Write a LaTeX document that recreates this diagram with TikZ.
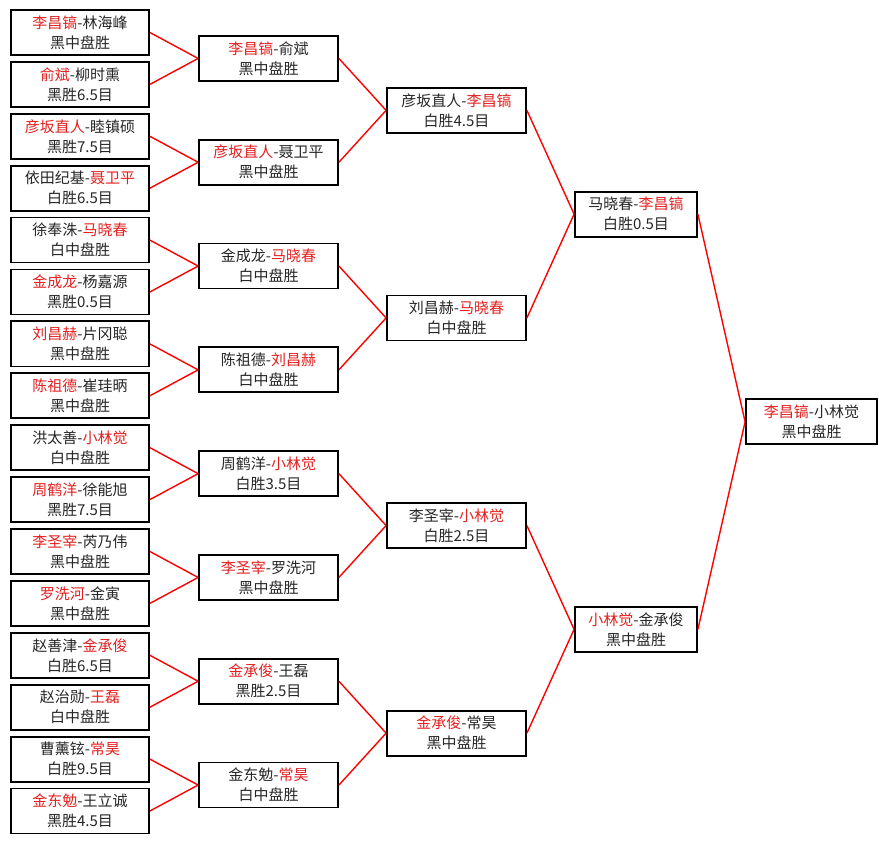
\documentclass[tikz,border=0pt]{standalone}
\usepackage{fontspec}
\setmainfont{Noto Sans CJK SC}
\usetikzlibrary{positioning,calc}
\definecolor{winred}{RGB}{228,32,32}
\newcommand{\wn}[1]{\textcolor{winred}{#1}}

\begin{document}
\begin{tikzpicture}[x=1pt, y=-1pt, node distance=5.1pt]
\tikzstyle{match}=[draw=black, line width=1.8pt, fill=white, align=center, minimum width=138pt, minimum height=45pt, inner sep=0pt, text=black!85, font=\fontsize{15}{20}\selectfont]
\tikzstyle{link}=[draw=red, line width=1.4pt]
\useasboundingbox (0,0) rectangle (879,845);
\fill[white] (0,0) rectangle (879,845);

% first round
\node[match]    (A1) at (80,32.5)   {\wn{李昌镐}-林海峰\\黑中盘胜};
\node[match]    (A2)[below=of A1]   {\wn{俞斌}-柳时熏\\黑胜6.5目};
\node[match]    (A3)[below=of A2]   {\wn{彦坂直人}-睦镇硕\\黑胜7.5目};
\node[match]    (A4)[below=of A3]   {依田纪基-\wn{聂卫平}\\白胜6.5目};
\node[match]    (A5)[below=of A4]   {徐奉洙-\wn{马晓春}\\白中盘胜};
\node[match]    (A6)[below=of A5]   {\wn{金成龙}-杨嘉源\\黑胜0.5目};
\node[match]    (A7)[below=of A6]   {\wn{刘昌赫}-片冈聪\\黑中盘胜};
\node[match]    (A8)[below=of A7]   {\wn{陈祖德}-崔珪昞\\黑中盘胜};
\node[match]    (A9)[below=of A8]   {洪太善-\wn{小林觉}\\白中盘胜};
\node[match]    (A10)[below=of A9]  {\wn{周鹤洋}-徐能旭\\黑胜7.5目};
\node[match]    (A11)[below=of A10] {\wn{李圣宰}-芮乃伟\\黑中盘胜};
\node[match]    (A12)[below=of A11] {\wn{罗洗河}-金寅\\黑中盘胜};
\node[match]    (A13)[below=of A12] {赵善津-\wn{金承俊}\\白胜6.5目};
\node[match]    (A14)[below=of A13] {赵治勋-\wn{王磊}\\白中盘胜};
\node[match]    (A15)[below=of A14] {曹薰铉-\wn{常昊}\\白胜9.5目};
\node[match]    (A16)[below=of A15] {\wn{金东勉}-王立诚\\黑胜4.5目};

% second round
\node[match, minimum width=139pt]    (B1) at ($(A1)!0.5!(A2)+(188.5,0)$)   {\wn{李昌镐}-俞斌\\黑中盘胜};
\node[match, minimum width=139pt]    (B2) at ($(A3)!0.5!(A4)+(188.5,0)$)   {\wn{彦坂直人}-聂卫平\\黑中盘胜};
\node[match, minimum width=139pt]    (B3) at ($(A5)!0.5!(A6)+(188.5,0)$)   {金成龙-\wn{马晓春}\\白中盘胜};
\node[match, minimum width=139pt]    (B4) at ($(A7)!0.5!(A8)+(188.5,0)$)   {陈祖德-\wn{刘昌赫}\\白中盘胜};
\node[match, minimum width=139pt]    (B5) at ($(A9)!0.5!(A10)+(188.5,0)$)  {周鹤洋-\wn{小林觉}\\白胜3.5目};
\node[match, minimum width=139pt]    (B6) at ($(A11)!0.5!(A12)+(188.5,0)$) {\wn{李圣宰}-罗洗河\\黑中盘胜};
\node[match, minimum width=139pt]    (B7) at ($(A13)!0.5!(A14)+(188.5,0)$) {\wn{金承俊}-王磊\\黑胜2.5目};
\node[match, minimum width=139pt]    (B8) at ($(A15)!0.5!(A16)+(188.5,0)$) {金东勉-\wn{常昊}\\白中盘胜};

% quarter finals
\node[match, minimum width=139pt]    (C1) at ($(B1)!0.5!(B2)+(188,0)$) {彦坂直人-\wn{李昌镐}\\白胜4.5目};
\node[match, minimum width=139pt]    (C2) at ($(B3)!0.5!(B4)+(188,0)$) {刘昌赫-\wn{马晓春}\\白中盘胜};
\node[match, minimum width=139pt]    (C3) at ($(B5)!0.5!(B6)+(188,0)$) {李圣宰-\wn{小林觉}\\白胜2.5目};
\node[match, minimum width=139pt]    (C4) at ($(B7)!0.5!(B8)+(188,0)$) {\wn{金承俊}-常昊\\黑中盘胜};

% semi finals
\node[match, minimum width=122pt]    (D1) at ($(C1)!0.5!(C2)+(179.5,0)$) {马晓春-\wn{李昌镐}\\白胜0.5目};
\node[match, minimum width=122pt]    (D2) at ($(C3)!0.5!(C4)+(179.5,0)$) {\wn{小林觉}-金承俊\\黑中盘胜};

% final
\node[match, minimum width=131pt]    (E1) at ($(D1)!0.5!(D2)+(175.5,0)$) {\wn{李昌镐}-小林觉\\黑中盘胜};

\path[link]
(A1.east) edge (B1.west)
(A2.east) edge (B1.west)
(A3.east) edge (B2.west)
(A4.east) edge (B2.west)
(A5.east) edge (B3.west)
(A6.east) edge (B3.west)
(A7.east) edge (B4.west)
(A8.east) edge (B4.west)
(A9.east) edge (B5.west)
(A10.east) edge (B5.west)
(A11.east) edge (B6.west)
(A12.east) edge (B6.west)
(A13.east) edge (B7.west)
(A14.east) edge (B7.west)
(A15.east) edge (B8.west)
(A16.east) edge (B8.west)
(B1.east) edge (C1.west)
(B2.east) edge (C1.west)
(B3.east) edge (C2.west)
(B4.east) edge (C2.west)
(B5.east) edge (C3.west)
(B6.east) edge (C3.west)
(B7.east) edge (C4.west)
(B8.east) edge (C4.west)
(C1.east) edge (D1.west)
(C2.east) edge (D1.west)
(C3.east) edge (D2.west)
(C4.east) edge (D2.west)
(D1.east) edge (E1.west)
(D2.east) edge (E1.west);
\end{tikzpicture}
\end{document}
